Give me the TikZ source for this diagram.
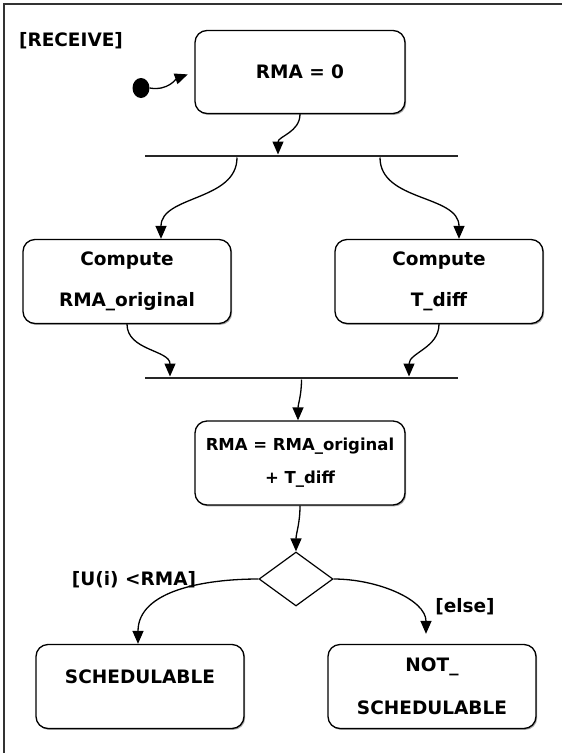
\documentclass[tikz,border=0pt]{standalone}
\usepackage{fontspec}
\setmainfont{DejaVu Sans}
\usetikzlibrary{arrows.meta,shapes.geometric,shadows}

\tikzset{
	actbox/.style={draw,line width=1.3pt,rounded corners=12pt,fill=white,align=center,
		minimum width=208pt,minimum height=84pt,
		drop shadow={shadow xshift=1.2pt,shadow yshift=-1.4pt,fill=black!70}},
	syncbar/.style={fill=black!85,inner sep=0pt,minimum width=313pt,minimum height=2.6pt},
	initdot/.style={ellipse,fill=black,inner sep=0pt,minimum width=17pt,minimum height=20pt},
	decision/.style={diamond,draw,line width=1.2pt,inner sep=0pt,minimum width=74pt,minimum height=54pt},
	flow/.style={line width=1.3pt,-{Triangle[length=13pt,width=11pt]}},
}

\begin{document}
\begin{tikzpicture}[every node/.style={font=\fontsize{18.5}{22}\selectfont\bfseries}]
		\useasboundingbox (0,0) rectangle (562pt,-753pt);
		\begin{scope}[x=1pt,y=1pt]
		\draw[line width=1.6pt,black!80] (4,-753)--(4,-4)--(562,-4);
		\node (receive) at (71,-41) {[RECEIVE]};
		\node[initdot] (init) at (141,-88) {};
		\node[actbox,minimum width=210pt,minimum height=83pt] (start) at (300,-72) {RMA = 0};
		\node[syncbar] (fork) at (301.5,-156) {};
		\node[actbox] (compA) at (127,-281.5) {Compute\\[19pt]RMA\_original};
		\node[actbox] (compB) at (439,-281.5) {Compute\\[19pt]T\_diff};
		\node[syncbar] (join) at (301.5,-378) {};
		\node[actbox,minimum width=210pt,font=\fontsize{16.5}{20}\selectfont\bfseries] (sum) at (300,-463) {RMA = RMA\_original\\[13pt]+ T\_diff};
		\node[decision] (dec) at (296,-579) {};
		\node[actbox,text depth=19pt] (sched) at (140,-686.5) {SCHEDULABLE};
		\node[actbox] (notsched) at (432,-686.5) {NOT\_\\[21pt]SCHEDULABLE};
		\node (guardA) at (134,-580) {[U(i) <RMA]};
		\node (guardB) at (465,-607) {[else]};
		\draw[flow,shorten >=7pt] (init.east) to[out=-10,in=200] (start.west);
		\draw[flow] (start.south) to[out=-90,in=90] ([xshift=-23.5pt]fork.north);
		\draw[flow] ([xshift=-64.5pt]fork.south) to[out=-90,in=90] ([xshift=34pt]compA.north);
		\draw[flow] ([xshift=78.5pt]fork.south) to[out=-90,in=90] ([xshift=20pt]compB.north);
		\draw[flow] (compA.south) to[out=-90,in=90] ([xshift=-131.5pt]join.north);
		\draw[flow] (compB.south) to[out=-90,in=90] ([xshift=107.5pt]join.north);
		\draw[flow] (join.south) to[out=-90,in=90] ([xshift=-2pt]sum.north);
		\draw[flow] (sum.south) to[out=-90,in=90] (dec.north);
		\draw[flow] (dec.west) to[out=180,in=90] ([xshift=-2pt]sched.north);
		\draw[flow,shorten >=10pt] (dec.east) to[out=0,in=90] ([xshift=-6pt]notsched.north);
		\end{scope}
	\end{tikzpicture}
\end{document}
